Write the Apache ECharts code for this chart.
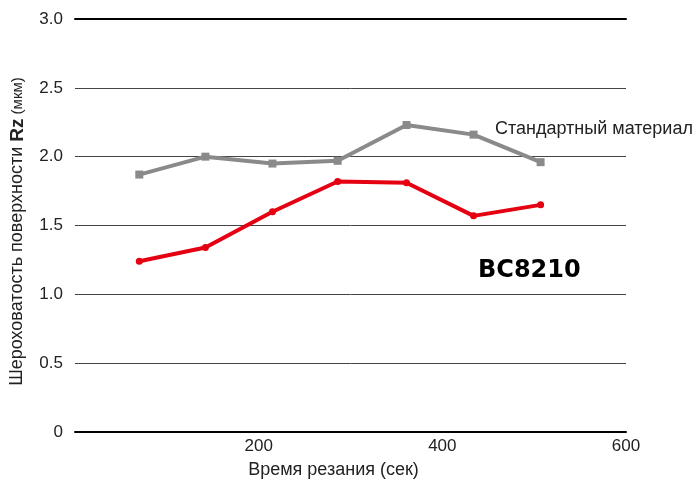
<!DOCTYPE html>
<html><head><meta charset="utf-8">
<script src="https://cdn.jsdelivr.net/npm/echarts@6/dist/echarts.min.js"></script>
<style>html,body{margin:0;padding:0;background:#fff}#c{width:700px;height:486px}</style>
</head><body><div id="c"></div>
<script>
var timeSec = [70, 142, 215, 286, 361, 434, 507];
var standardRz = [1.87, 2.0, 1.95, 1.97, 2.23, 2.16, 1.96];
var bc8210Rz = [1.24, 1.34, 1.60, 1.82, 1.81, 1.57, 1.65];
var xTicks = [200, 400, 600];
var yTicks = [0, 0.5, 1.0, 1.5, 2.0, 2.5, 3.0];

function pairs(xs, ys){ return xs.map(function(x,i){return [x, ys[i]];}); }

var chart = echarts.init(document.getElementById('c'));
var FONT = 'Liberation Sans, Arial, sans-serif';
chart.setOption({
  animation: false,
  grid: {left: 75, top: 19, width: 551, height: 413},
  xAxis: [{
    type: 'value', min: 0, max: 600, interval: 200,
    axisLine: {show: true, lineStyle: {color: '#000', width: 2}},
    axisTick: {show: false},
    splitLine: {show: false},
    axisLabel: {color: '#222', fontSize: 17, fontFamily: FONT, margin: 6,
      formatter: function(v){ return xTicks.indexOf(v) >= 0 ? String(v) : ''; }},
    name: 'Время резания (сек)', nameLocation: 'middle', nameGap: 29,
    nameTextStyle: {color: '#222', fontSize: 18, fontFamily: FONT, padding: [0, 34, 0, 0]}
  }, {
    type: 'value', min: 0, max: 600, position: 'top',
    axisLine: {show: true, onZero: false, lineStyle: {color: '#000', width: 2}},
    axisTick: {show: false}, axisLabel: {show: false}, splitLine: {show: false}
  }],
  yAxis: {
    type: 'value', min: 0, max: 3, interval: 0.5,
    axisLine: {show: false}, axisTick: {show: false},
    splitLine: {show: true, lineStyle: {color: '#444', width: 1}},
    axisLabel: {color: '#222', fontSize: 17, fontFamily: FONT, margin: 12,
      formatter: function(v){ return v === 0 ? '0' : v.toFixed(1); }},
    name: '{a|Шероховатость поверхности }{b|Rz}{c| (мкм)}',
    nameLocation: 'middle', nameGap: 48, nameRotate: 90,
    nameTextStyle: {
      padding: [0, 12, 0, 0],
      rich: {
        a: {color: '#222', fontSize: 18, fontFamily: FONT},
        b: {color: '#222', fontSize: 19, fontWeight: 'bold', fontFamily: FONT},
        c: {color: '#222', fontSize: 15, fontFamily: FONT}
      }
    }
  },
  series: [{
    type: 'line', name: 'Стандартный материал',
    data: pairs(timeSec, standardRz),
    symbol: 'rect', symbolSize: 8, showAllSymbol: true,
    lineStyle: {color: '#8a8a8a', width: 4},
    itemStyle: {color: '#8a8a8a'},
    z: 3
  }, {
    type: 'line', name: 'BC8210',
    data: pairs(timeSec, bc8210Rz),
    symbol: 'circle', symbolSize: 7, showAllSymbol: true,
    lineStyle: {color: '#e50012', width: 4},
    itemStyle: {color: '#e50012'},
    z: 4
  }],
  graphic: [{
    type: 'text', left: 495, top: 120,
    style: {text: 'Стандартный материал', fill: '#222', font: '18px ' + FONT}
  }, {
    type: 'text', left: 478, top: 259,
    style: {text: 'BC8210', fill: '#000', font: 'bold 24px "DejaVu Sans", sans-serif'}
  }]
});
</script></body></html>
